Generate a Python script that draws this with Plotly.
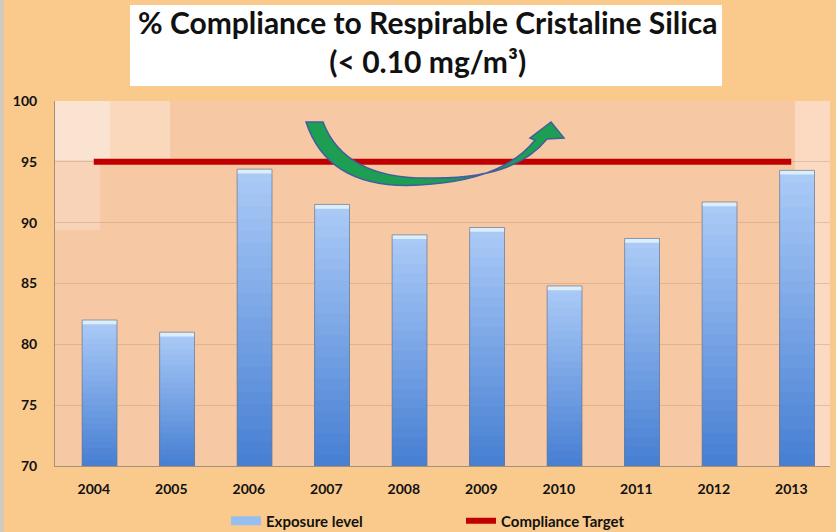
import plotly.graph_objects as go

years = ["2004", "2005", "2006", "2007", "2008", "2009", "2010", "2011", "2012", "2013"]
exposure = [82.0, 81.0, 94.4, 91.5, 89.0, 89.6, 84.8, 88.7, 91.7, 94.3]
target = [95, 95, 95, 95, 95, 95, 95, 95, 95, 95]
y_ticks = [70, 75, 80, 85, 90, 95, 100]
BASE = 70

FONT = "Lato, 'Open Sans', sans-serif"

def lerp(c1, c2, t):
    return "rgb(%d,%d,%d)" % tuple(round(a + (b - a) * t) for a, b in zip(c1, c2))

dark = (72, 128, 212)
light = (170, 202, 246)
BW = 0.45
BOFF = -0.15

fig = go.Figure()

# gradient bars: overlapping bars, full height lightest first, shorter & darker on top
N = 24
for i in range(N):
    frac = (N - i) / N
    t = 1 - i / (N - 1)
    fig.add_trace(go.Bar(
        x=years,
        base=[BASE] * len(exposure),
        y=[(v - BASE) * frac for v in exposure],
        width=BW, offset=BOFF,
        marker=dict(color=lerp(dark, light, t), line=dict(width=0)),
        showlegend=False, hoverinfo="skip",
    ))
# light cap
fig.add_trace(go.Bar(
    x=years, base=[v - 0.35 for v in exposure], y=[0.35] * len(exposure),
    width=BW, offset=BOFF,
    marker=dict(color="rgb(220,238,252)", line=dict(width=0)),
    showlegend=False, hoverinfo="skip",
))
# outline
fig.add_trace(go.Bar(
    x=years, base=[BASE] * len(exposure), y=[v - BASE for v in exposure],
    width=BW, offset=BOFF,
    name="Exposure level",
    marker=dict(color="rgba(0,0,0,0)", line=dict(color="rgba(110,120,140,0.7)", width=1)),
    showlegend=False,
))
# legend entry (wide light-blue swatch)
fig.add_trace(go.Scatter(
    x=[years[0]], y=[None], mode="lines", name="Exposure level",
    line=dict(color="rgb(150,190,240)", width=9),
    showlegend=True, hoverinfo="skip",
))

fig.add_trace(go.Scatter(
    x=years, y=target, mode="lines", name="Compliance Target",
    line=dict(color="#C00000", width=6),
))

L, R, T, B = 55, 6, 101, 66
PW = 836 - L - R
PH = 532 - T - B

def P(x, y):
    return "%.4f,%.4f" % ((x - L) / PW, (532 - B - y) / PH)

def px(x):
    return (x - L) / PW

def py(y):
    return (532 - B - y) / PH

arrow = ("M " + P(306, 122) +
         " Q " + P(330, 195) + " " + P(432, 184) +
         " Q " + P(505, 178) + " " + P(535, 140) +
         " L " + P(530, 138) +
         " L " + P(551, 122) +
         " L " + P(564, 138) +
         " L " + P(547, 139) +
         " Q " + P(515, 179) + " " + P(432, 178) +
         " Q " + P(345, 180) + " " + P(323, 122) + " Z")

shapes = [
    # background lighting in the plot area
    dict(type="rect", xref="paper", yref="paper", x0=0, x1=px(110), y0=py(160), y1=1,
         fillcolor="rgba(255,250,245,0.55)", line=dict(width=0), layer="below"),
    dict(type="rect", xref="paper", yref="paper", x0=px(110), x1=px(170), y0=py(160), y1=1,
         fillcolor="rgba(255,245,235,0.35)", line=dict(width=0), layer="below"),
    dict(type="rect", xref="paper", yref="paper", x0=0, x1=px(100), y0=py(230), y1=py(160),
         fillcolor="rgba(255,240,230,0.3)", line=dict(width=0), layer="below"),
    dict(type="rect", xref="paper", yref="paper", x0=px(795), x1=1, y0=0, y1=1,
         fillcolor="rgba(255,240,228,0.45)", line=dict(width=0), layer="below"),
    dict(type="path", xref="paper", yref="paper", path=arrow,
         fillcolor="#1E9E52", line=dict(color="#3F5F9F", width=1.5), layer="above"),
    # title box
    dict(type="rect", xref="paper", yref="paper", x0=px(130), x1=px(722), y0=py(86), y1=py(5),
         fillcolor="white", line=dict(width=0)),
    # left grey edge of slide
    dict(type="rect", xref="paper", yref="paper", x0=px(0), x1=px(4), y0=py(532), y1=py(0),
         fillcolor="rgba(200,200,200,0.8)", line=dict(width=0)),
]

fig.add_annotation(
    xref="paper", yref="paper", x=px(428), y=py(41),
    text="<b>% Compliance to Respirable Cristaline Silica</b><br><b>(&lt; 0.10 mg/m³)</b>",
    showarrow=False, font=dict(family=FONT, size=30, color="#111111"),
    xanchor="center", yanchor="middle",
)

fig.update_layout(
    width=836, height=532,
    margin=dict(l=L, r=R, t=T, b=B, autoexpand=False),
    paper_bgcolor="#FACA8C",
    plot_bgcolor="#F7C8A4",
    barmode="overlay",
    font=dict(family=FONT, color="#111111"),
    shapes=shapes,
    legend=dict(orientation="h", x=px(226), xanchor="left", y=py(521), yanchor="middle",
                font=dict(family=FONT, size=15, color="#111111", weight="bold"),
                entrywidth=190, bgcolor="rgba(0,0,0,0)", itemwidth=30,
                traceorder="normal"),
    xaxis=dict(type="category", categoryorder="array", categoryarray=years,
               showgrid=False, showline=True, linecolor="rgba(140,130,120,0.8)", linewidth=1,
               tickfont=dict(family=FONT, size=14, color="#111111", weight="bold"),
               ticks="", ticklabelstandoff=10),
    yaxis=dict(range=[70, 100], tickvals=y_ticks, showgrid=True,
               gridcolor="rgba(170,140,125,0.35)", gridwidth=1,
               showline=True, linecolor="rgba(140,130,120,0.8)", linewidth=1,
               zeroline=False,
               tickfont=dict(family=FONT, size=14, color="#111111", weight="bold"),
               ticks="", ticklabelstandoff=14),
    showlegend=True,
)

fig.write_html("out.html", config={"displayModeBar": False},
               post_script="document.body.style.margin='0';document.body.style.overflow='hidden';")
